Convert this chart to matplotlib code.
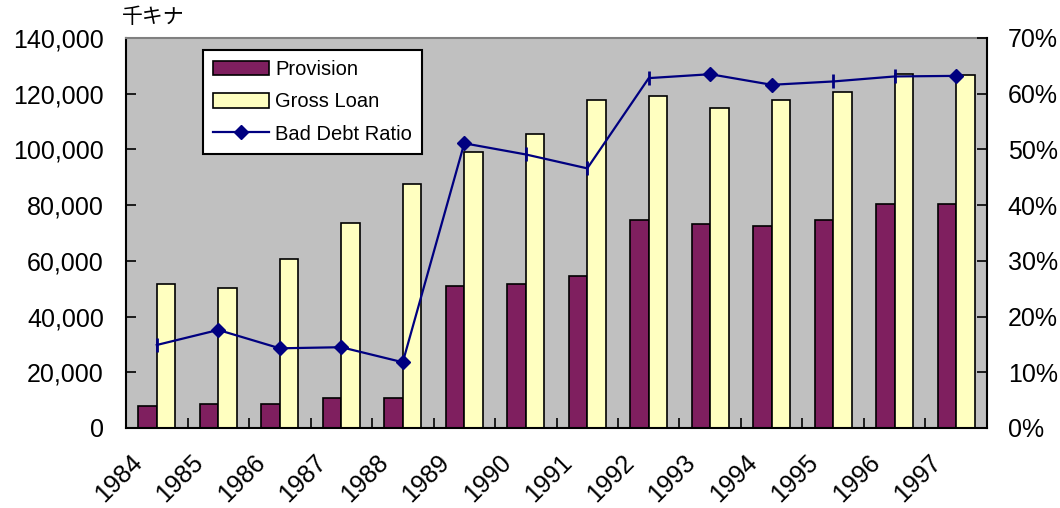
import matplotlib
matplotlib.use("Agg")
import matplotlib.pyplot as plt
import matplotlib.transforms as mtransforms
import numpy as np
from matplotlib.lines import Line2D
from matplotlib.patches import Patch
from matplotlib.ticker import FuncFormatter

years = ["1984", "1985", "1986", "1987", "1988", "1989", "1990",
         "1991", "1992", "1993", "1994", "1995", "1996", "1997"]
provision = [8000, 8600, 8600, 10900, 10900, 51000, 51700,
             54600, 74700, 73200, 72500, 74700, 80400, 80400]
gross_loan = [51700, 50100, 60700, 73600, 87600, 98900, 105400,
              117700, 119000, 114700, 117700, 120500, 127000, 126800]
bad_debt_ratio = [14.9, 17.6, 14.3, 14.5, 11.8, 51.1, 49.1,
                  46.6, 62.8, 63.5, 61.6, 62.2, 63.1, 63.2]
# years drawn with a diamond marker; the others get a short tick mark
diamond_years = ["1985", "1986", "1987", "1988", "1989", "1993", "1994", "1997"]

plt.rcParams["font.family"] = ["Liberation Sans", "DejaVu Sans"]

PURPLE = "#7F1F5F"
YELLOW = "#FFFFC0"
NAVY = "#000080"

fig = plt.figure(figsize=(10.6, 5.08), dpi=100)
ax = fig.add_axes([0.1189, 0.1575, 0.8122, 0.7677])
ax.set_facecolor("#C0C0C0")

x = np.arange(len(years))
w = 0.3
ax.bar(x - w / 2, provision, width=w, color=PURPLE, edgecolor="black", linewidth=1.2, zorder=2)
ax.bar(x + w / 2, gross_loan, width=w, color=YELLOW, edgecolor="black", linewidth=1.2, zorder=2)
ax.set_xlim(-0.5, len(years) - 0.5)
ax.set_ylim(0, 140000)
ax.set_yticks(np.arange(0, 140001, 20000))
ax.yaxis.set_major_formatter(FuncFormatter(lambda v, p: f"{int(v):,}"))
ax.tick_params(axis="y", direction="in", length=7, width=1.2, pad=16, labelsize=18)

ax.set_xticks(x)
ax.set_xticklabels(years, rotation=45, ha="right", fontsize=18)
ax.set_xticks(np.arange(0.5, len(years) - 0.5, 1), minor=True)
ax.tick_params(axis="x", which="major", length=0, pad=16)
ax.tick_params(axis="x", which="minor", direction="in", length=7, width=1.2)
shift = mtransforms.ScaledTranslation(-0.1, 0, fig.dpi_scale_trans)
for lab in ax.get_xticklabels():
    lab.set_transform(lab.get_transform() + shift)

for s in ["left", "bottom"]:
    ax.spines[s].set_linewidth(1.5)
ax.spines["top"].set_color("#808080")
ax.spines["top"].set_linewidth(1.5)
ax.spines["right"].set_visible(False)

ax2 = ax.twinx()
ax2.plot(x, bad_debt_ratio, color=NAVY, linewidth=1.6, zorder=3)
dx = [i for i, y in enumerate(years) if y in diamond_years]
tx = [i for i, y in enumerate(years) if y not in diamond_years]
ax2.plot(dx, [bad_debt_ratio[i] for i in dx], linestyle="none", marker="D",
         markersize=7.5, color=NAVY)
ax2.plot(tx, [bad_debt_ratio[i] for i in tx], linestyle="none", marker="|",
         markersize=9.5, markeredgewidth=2, color=NAVY)
ax2.set_ylim(0, 70)
ax2.set_yticks(np.arange(0, 71, 10))
ax2.yaxis.set_major_formatter(FuncFormatter(lambda v, p: f"{int(v)}%"))
ax2.tick_params(axis="y", direction="in", length=7, width=1.2, pad=15, labelsize=18)
for s in ["left", "bottom", "top"]:
    ax2.spines[s].set_visible(False)
ax2.spines["right"].set_linewidth(1.5)

handles = [
    Patch(facecolor=PURPLE, edgecolor="black", linewidth=1.2),
    Patch(facecolor=YELLOW, edgecolor="black", linewidth=1.2),
    Line2D([0], [0], color=NAVY, linewidth=1.6, marker="D", markersize=7.5),
]
leg = fig.legend(handles, ["Provision", "Gross Loan", "Bad Debt Ratio"],
                 loc="upper left", bbox_to_anchor=(0.1915, 0.9016),
                 bbox_transform=fig.transFigure, borderaxespad=0,
                 fontsize=14.5, handlelength=2.8, handleheight=0.75,
                 handletextpad=0.3, labelspacing=0.66, borderpad=0.5,
                 fancybox=False, framealpha=1, edgecolor="black")
leg.get_frame().set_linewidth(1.5)

fig.text(122 / 1060, 1 - 17 / 508, "千キナ", fontsize=15, va="center", ha="left",
         family=["Noto Sans CJK JP", "DejaVu Sans"])

fig.savefig("out.png", dpi=100)
